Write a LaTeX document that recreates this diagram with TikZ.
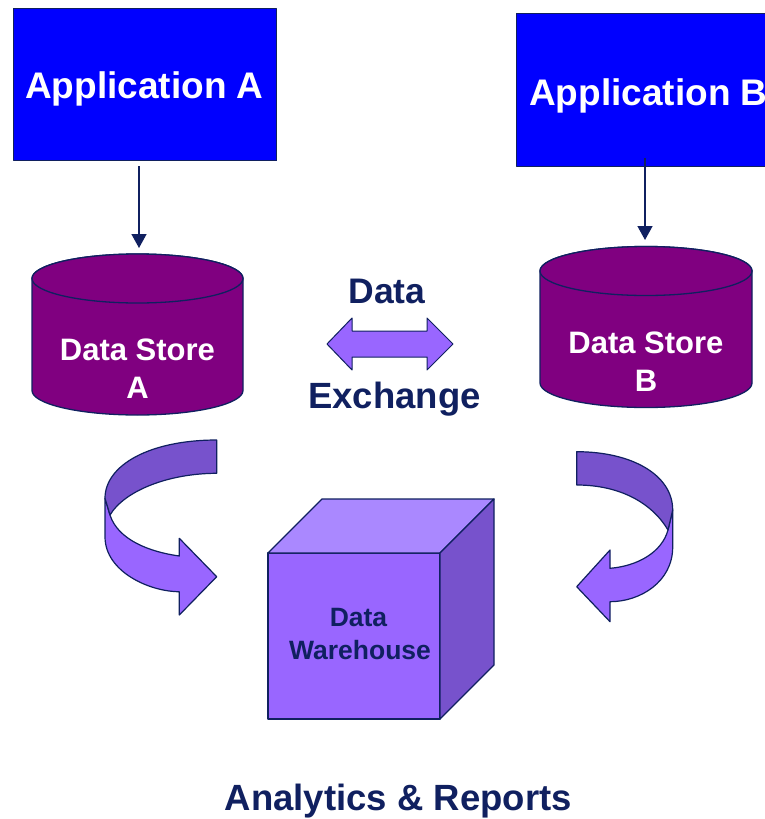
\documentclass[tikz,border=0pt]{standalone}
\usepackage{fontspec}
\setmainfont{Liberation Sans}
\usetikzlibrary{arrows.meta}
\definecolor{navy}{RGB}{16,32,96}
\definecolor{appblue}{RGB}{0,0,255}
\definecolor{store}{RGB}{128,0,128}
\definecolor{lightv}{RGB}{153,102,255}
\definecolor{darkv}{RGB}{119,82,204}
\definecolor{topv}{RGB}{170,136,255}
\begin{document}
\begin{tikzpicture}[x=1pt,y=-1pt,
  outl/.style={draw=navy, line width=1.3pt, line join=round},
  appbox/.style={outl, fill=appblue, anchor=north west, inner sep=0},
  lbl/.style={font=\bfseries\fontsize{#1}{#1}\selectfont, inner sep=0, anchor=base},
  conn/.style={draw=navy, line width=1.5pt, -{Triangle[length=14pt,width=15pt]}},
  band/.style={outl, line width=1.2pt}]
\useasboundingbox (0,0) rectangle (764,819);

% application boxes
\node[appbox, minimum width=263pt, minimum height=152pt] (appA) at (13,8) {};
\node[appbox, minimum width=280pt, minimum height=153pt] (appB) at (516,13) {};
\node[lbl=37, text=white] (appAtxt) at (144.5,98.3) {Application A};
\node[lbl=37, text=white, anchor=base west] (appBtxt) at (529,105) {Application B};

% data store A
\draw[outl, fill=store] (32,278.5) -- (32,390.5)
  arc[start angle=180, end angle=0, x radius=105.5, y radius=24.5]
  -- (243,278.5)
  arc[start angle=0, end angle=-180, x radius=105.5, y radius=24.5] -- cycle;
\draw[outl, fill=store] (137.5,278.5) ellipse[x radius=105.5, y radius=24.5];
\node[lbl=31, text=white] (dsA1) at (137.5,360) {Data Store};
\node[lbl=31, text=white] (dsA2) at (137.5,398.5) {A};

% data store B
\draw[outl, fill=store] (540,271) -- (540,383)
  arc[start angle=180, end angle=0, x radius=106, y radius=24.5]
  -- (752,271)
  arc[start angle=0, end angle=-180, x radius=106, y radius=24.5] -- cycle;
\draw[outl, fill=store] (646,271) ellipse[x radius=106, y radius=24.5];
\node[lbl=31, text=white] (dsB1) at (646,353) {Data Store};
\node[lbl=31, text=white] (dsB2) at (646,391.5) {B};

% connectors
\coordinate (aStart) at (139,166);
\coordinate (aEnd) at (139,248);
\coordinate (bStart) at (645,158);
\coordinate (bEnd) at (645,240);
\draw[conn] (aStart) -- (aEnd);
\draw[conn] (bStart) -- (bEnd);

% data exchange
\node[lbl=35.5, text=navy] (dx1) at (387,303) {Data};
\node[lbl=36.5, text=navy] (dx2) at (394.5,408) {Exchange};
\draw[outl, line width=1pt, fill=lightv] (327,344) -- (352,318) -- (352,331) -- (427,331)
  -- (427,318) -- (453,344) -- (427,370) -- (427,357) -- (352,357) -- (352,370) -- cycle;

% left curved arrow
\draw[band, fill=lightv] (105,498.3) -- (105,536.7)
  .. controls (105,572) and (150,591.7) .. (179.3,591.7)
  -- (179.3,615) -- (216.7,576.7) -- (179.3,538.3) -- (179.3,556)
  .. controls (150,552) and (118,540) .. (110,515) -- cycle;
\draw[band, fill=darkv] (216.7,440)
  .. controls (150,440) and (105,465) .. (105,498.3)
  -- (110,515)
  .. controls (125,490) and (170,473.3) .. (216.7,473.3) -- cycle;

% right curved arrow
\draw[band, fill=lightv] (672.7,510) -- (672.7,547)
  .. controls (672.7,582) and (640,601.7) .. (610,601.7)
  -- (610,621.7) -- (576.7,586.7) -- (610,550) -- (610,568.3)
  .. controls (638,566) and (662,552) .. (668,530) -- cycle;
\draw[band, fill=darkv] (576.7,451.7)
  .. controls (632,451.7) and (672.7,475) .. (672.7,510)
  -- (668,530)
  .. controls (652,503) and (620,485) .. (576.7,485) -- cycle;

% cube
\draw[outl, fill=lightv] (268,553) rectangle (440,719);
\draw[outl, fill=topv] (268,553) -- (322,499) -- (494,499) -- (440,553) -- cycle;
\draw[outl, fill=darkv] (440,553) -- (494,499) -- (494,665) -- (440,719) -- cycle;
\node[lbl=26.5, text=navy] (dw1) at (358.5,626.7) {Data};
\node[lbl=26.5, text=navy] (dw2) at (360,659) {Warehouse};

% bottom label
\node[lbl=36.5, text=navy] (ar) at (398.3,810) {Analytics \& Reports};
\end{tikzpicture}
\end{document}
